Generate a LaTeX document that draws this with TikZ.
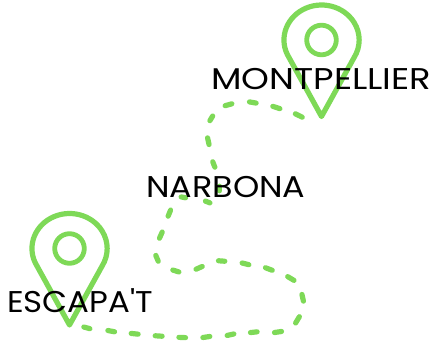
\documentclass[tikz,border=0pt]{standalone}
\usepackage{fontspec}
\setmainfont{Poppins}
\newfontfamily\placefont{Poppins}
\usepackage{graphicx}
\definecolor{pingreen}{HTML}{7ED957}
\tikzset{
  pinline/.style={draw=pingreen,line width=5.2pt,line join=round,line cap=round},
  dashline/.style={draw=pingreen,line width=5.2pt,line cap=round,shorten >=1.2pt,shorten <=1.2pt},
  place/.style={inner sep=0pt,anchor=base west,text=black,font=\placefont\fontsize{30}{32}\selectfont},
  pin/.pic={
    \draw[pinline] (-32.5,17.5) arc[start angle=210,delta angle=-240,x radius=37.6pt,y radius=35pt] -- (0,76.5) -- cycle;
    \draw[pinline,line width=4.8pt] (0,0) circle[radius=14.8pt];
  }
}
\begin{document}
\begin{tikzpicture}[x=1pt,y=-1pt]
\useasboundingbox (0,0) rectangle (432,345);
\pic at (321.5,40) {pin};
\pic at (69.5,248.5) {pin};
\foreach \ax/\ay/\bx/\by in {
 224/106/233/103.5, 248.3/101.7/257.3/103.3, 271.7/106/281/109, 294.3/113.3/303.3/117.7,
 209.3/121.7/213.3/115, 207.3/136.7/209.3/145.7, 212.3/160.7/215.3/168.3,
 219.4/185/219.4/192, 204.3/200.7/211/203.3, 180/196.7/186.7/198,
 171/209/167.7/217.3, 162.7/231/159/239.3, 155.3/254.3/158.7/262.3, 171.7/269.7/180/272.3,
 195/269.7/203.3/266, 217.3/260.7/226/261.3, 241/262.7/250/265, 264.3/267.3/273.3/270.7,
 286.7/276/295/281, 301.7/293.3/303.7/302.3, 300/315.7/295/324, 282.7/331.3/273.3/332.7,
 258.3/331.7/249.3/332.7, 235/333.7/226/335.7, 211/336.3/201.7/337.7, 186.7/337.7/177.7/337.3,
 163.3/336.3/154/335.7, 139.3/334.3/130/333.3, 115.7/332/106.7/330.3, 91/329/82.7/326.7}
 { \draw[dashline] (\ax,\ay) -- (\bx,\by); }
\node[place] (montpellier) at (211,90) {\scalebox{1.18}[1]{MONTPELLIER}};
\node[place] (narbona) at (146,198) {\scalebox{1.115}[1]{NARBONA}};
\node[place] (escapat) at (7,312.7) {\scalebox{1.08}[1]{ESCAPA'T}};
\end{tikzpicture}
\end{document}
